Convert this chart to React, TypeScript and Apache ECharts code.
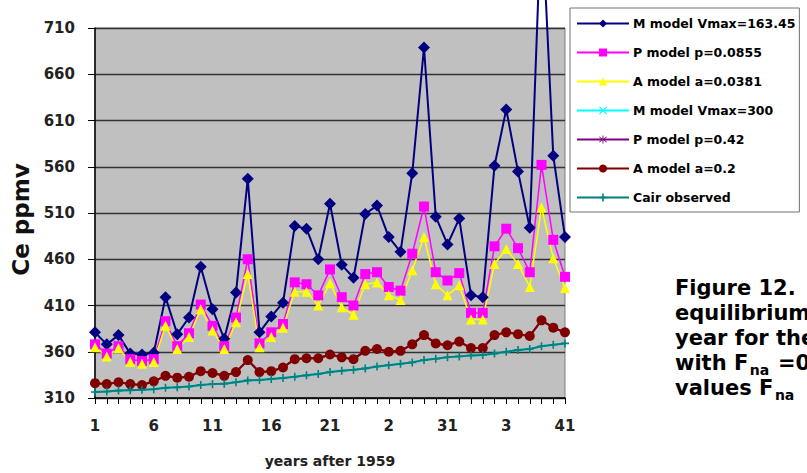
import React, { useEffect, useRef } from "react";
import * as echarts from "echarts";

// Years after 1959 (category axis) and the tick texts printed under every fifth year
const years = [
  "1", "2", "3", "4", "5", "6", "7", "8", "9", "10",
  "11", "12", "13", "14", "15", "16", "17", "18", "19", "20",
  "21", "22", "23", "24", "25", "26", "27", "28", "29", "30",
  "31", "32", "33", "34", "35", "36", "37", "38", "39", "40", "41",
];
const yearTickText = ["1", "6", "11", "16", "21", "2", "31", "3", "41"];

// Value axis (ppmv)
const yMin = 310;
const yMax = 710;
const yStep = 50;

// Series values, ppmv
const mModelVmax163 = [
  381, 368, 378, 358, 357, 359, 419, 379, 397, 452,
  406, 374, 424, 547, 381, 398, 413, 496, 493, 460,
  520, 454, 440, 509, 518, 484, 468, 553, 689, 506,
  476, 504, 421, 419, 561, 622, 555, 494, 840, 572, 484,
];
const pModelP0855 = [
  368, 358, 366, 352, 350, 352, 393, 366, 380, 411,
  388, 366, 397, 460, 369, 381, 390, 435, 433, 421,
  449, 419, 410, 444, 446, 430, 426, 466, 517, 446,
  437, 445, 402, 402, 474, 493, 472, 446, 562, 481, 441,
];
const aModelA0381 = [
  365, 355, 364, 349, 347, 349, 388, 363, 376, 406,
  383, 363, 392, 444, 365, 376, 386, 425, 425, 410,
  434, 408, 400, 433, 435, 421, 416, 448, 484, 433,
  421, 432, 395, 395, 455, 471, 455, 430, 516, 461, 429,
];
const mModelVmax300 = [
  316.5, 317, 318, 318.5, 319, 319.5, 321, 321.5, 322.5, 324,
  325, 325.5, 327, 329, 329.5, 330.5, 331.5, 333, 334.5, 336,
  338, 339.5, 340.5, 342, 344, 345.5, 347, 348.5, 351, 352.5,
  354, 355, 356, 356.5, 358, 360, 362, 363, 366, 367.5, 369,
];
const pModelP042 = [
  326, 325, 327, 325, 324, 328, 334, 332, 333, 339,
  337, 334, 338, 351, 338, 339, 343, 352, 353, 353,
  357, 354, 352, 361, 363, 360, 361, 368, 378, 369,
  367, 371, 364, 364, 378, 381, 379, 377, 394, 386, 381,
];
const aModelA02 = [
  326, 325, 327, 325, 324, 328, 334, 332, 333, 339,
  337, 334, 338, 351, 338, 339, 343, 352, 353, 353,
  357, 354, 352, 361, 363, 360, 361, 368, 378, 369,
  367, 371, 364, 364, 378, 381, 379, 377, 394, 386, 381,
];
const cairObserved = [
  316.5, 317, 318, 318.5, 319, 319.5, 321, 321.5, 322.5, 324,
  325, 325.5, 327, 329, 329.5, 330.5, 331.5, 333, 334.5, 336,
  338, 339.5, 340.5, 342, 344, 345.5, 347, 348.5, 351, 352.5,
  354, 355, 356, 356.5, 358, 360, 362, 363, 366, 367.5, 369,
];

const FONT = '"DejaVu Sans", "Liberation Sans", Arial, sans-serif';

// Marker outlines in the style of spreadsheet default markers
const plusSymbol = "path://M4,0H6V4H10V6H6V10H4V6H0V4H4Z";
const crossSymbol = "path://M1,0L5,4L9,0L10,1L6,5L10,9L9,10L5,6L1,10L0,9L4,5L0,1Z";
const starSymbol =
  "path://M4.5,0H5.5V4.3L8.6,1.2L9.3,1.9L6.2,5L9.3,8.1L8.6,8.8L5.5,5.7V10H4.5V5.7L1.4,8.8L0.7,8.1L3.8,5L0.7,1.9L1.4,1.2L4.5,4.3Z";

function textWidth(str: string, font: string): number {
  const ctx = document.createElement("canvas").getContext("2d");
  if (!ctx) return str.length * 12;
  ctx.font = font;
  return ctx.measureText(str).width;
}

export default function App() {
  const ref = useRef<HTMLDivElement>(null);

  useEffect(() => {
    if (!ref.current) return;
    const chart = echarts.init(ref.current, undefined, { renderer: "svg" });

    const capFont = `bold 21px ${FONT}`;
    const subFont = `bold 14px ${FONT}`;
    const capX = 675;
    const lineY = [287.5, 312.5, 337.5, 362.5, 387.5];

    const withF = "with F";
    const valuesF = "values F";
    const withFW = textWidth(withF, capFont) + 1.5;
    const valuesFW = textWidth(valuesF, capFont) + 1.5;
    const naW = textWidth("na", subFont) + 1.5;

    const capText = (text: string, x: number, y: number, font = capFont) => ({
      type: "text",
      x,
      y,
      silent: true,
      style: { text, font, fill: "#000", verticalAlign: "middle", align: "left" },
    });

    const lineSeries = (
      name: string,
      data: number[],
      color: string,
      symbol: string,
      symbolSize: number,
      width: number,
      extra: Record<string, unknown> = {}
    ) => ({
      name,
      type: "line",
      data,
      symbol,
      symbolSize,
      showSymbol: true,
      showAllSymbol: true,
      lineStyle: { color, width },
      itemStyle: { color, borderWidth: 0 },
      emphasis: { disabled: true },
      ...extra,
    });

    chart.setOption({
      animation: false,
      backgroundColor: "#fff",
      textStyle: { fontFamily: FONT },
      grid: {
        left: 95,
        top: 28,
        width: 470,
        height: 375,
        show: true,
        backgroundColor: "#c0c0c0",
        borderColor: "#808080",
        borderWidth: 1,
      },
      legend: {
        orient: "vertical",
        left: 570,
        top: 8,
        itemWidth: 52,
        itemHeight: 10,
        itemGap: 16,
        padding: [9, 4, 8, 6],
        backgroundColor: "#fff",
        borderColor: "#707070",
        borderWidth: 1,
        selectedMode: false,
        textStyle: {
          fontFamily: FONT,
          fontWeight: "bold",
          fontSize: 12.5,
          color: "#000",
          padding: [0, 0, 0, -1],
        },
      },
      xAxis: {
        type: "category",
        data: years,
        boundaryGap: false,
        name: "years after 1959",
        nameLocation: "middle",
        nameGap: 56,
        nameTextStyle: { fontFamily: FONT, fontWeight: "bold", fontSize: 14, color: "#222" },
        axisLine: { lineStyle: { color: "#000", width: 1.5 } },
        axisTick: { show: true, interval: 0, length: 6, lineStyle: { color: "#000", width: 1 } },
        axisLabel: {
          interval: 4,
          margin: 20,
          fontFamily: FONT,
          fontWeight: "bold",
          fontSize: 15,
          color: "#222",
          formatter: (_v: string, i: number) => yearTickText[Math.floor(i / 5)] ?? "",
        },
        splitLine: { show: false },
      },
      yAxis: {
        type: "value",
        min: yMin,
        max: yMax,
        interval: yStep,
        name: "Ce ppmv",
        nameLocation: "middle",
        nameGap: 54,
        nameTextStyle: {
          fontFamily: FONT,
          fontWeight: "bold",
          fontSize: 23,
          color: "#111",
          padding: [0, 13, 0, 0],
        },
        axisLine: { show: true, lineStyle: { color: "#000", width: 1.5 } },
        axisTick: { show: true, length: 7, lineStyle: { color: "#000", width: 1 } },
        axisLabel: {
          margin: 20,
          fontFamily: FONT,
          fontWeight: "bold",
          fontSize: 15,
          color: "#222",
        },
        splitLine: { show: true, lineStyle: { color: "#333", width: 1.3 } },
      },
      series: [
        lineSeries("M model Vmax=163.45", mModelVmax163, "#000080", "diamond", 12, 2, { clip: false }),
        lineSeries("P model p=0.0855", pModelP0855, "#ff00ff", "rect", 10, 1.5),
        lineSeries("A model a=0.0381", aModelA0381, "#ffff00", "triangle", 10, 1.5),
        lineSeries("M model Vmax=300", mModelVmax300, "#00ffff", crossSymbol, 7, 2, { showSymbol: false }),
        lineSeries("P model p=0.42", pModelP042, "#800080", starSymbol, 8, 2, { showSymbol: false }),
        lineSeries("A model a=0.2", aModelA02, "#800000", "circle", 10, 2),
        lineSeries("Cair observed", cairObserved, "#008080", plusSymbol, 8, 2),
      ],
      graphic: [
        capText("Figure 12.", capX, lineY[0]),
        capText("equilibrium", capX, lineY[1]),
        capText("year for the", capX, lineY[2]),
        capText(withF, capX, lineY[3]),
        capText("na", capX + withFW, lineY[3] + 7, subFont),
        capText(" =0", capX + withFW + naW, lineY[3]),
        capText(valuesF, capX, lineY[4]),
        capText("na", capX + valuesFW, lineY[4] + 7, subFont),
      ],
    });

    return () => chart.dispose();
  }, []);

  return (
    <div
      ref={ref}
      style={{ position: "absolute", left: 0, top: 0, width: 807, height: 473 }}
    />
  );
}
